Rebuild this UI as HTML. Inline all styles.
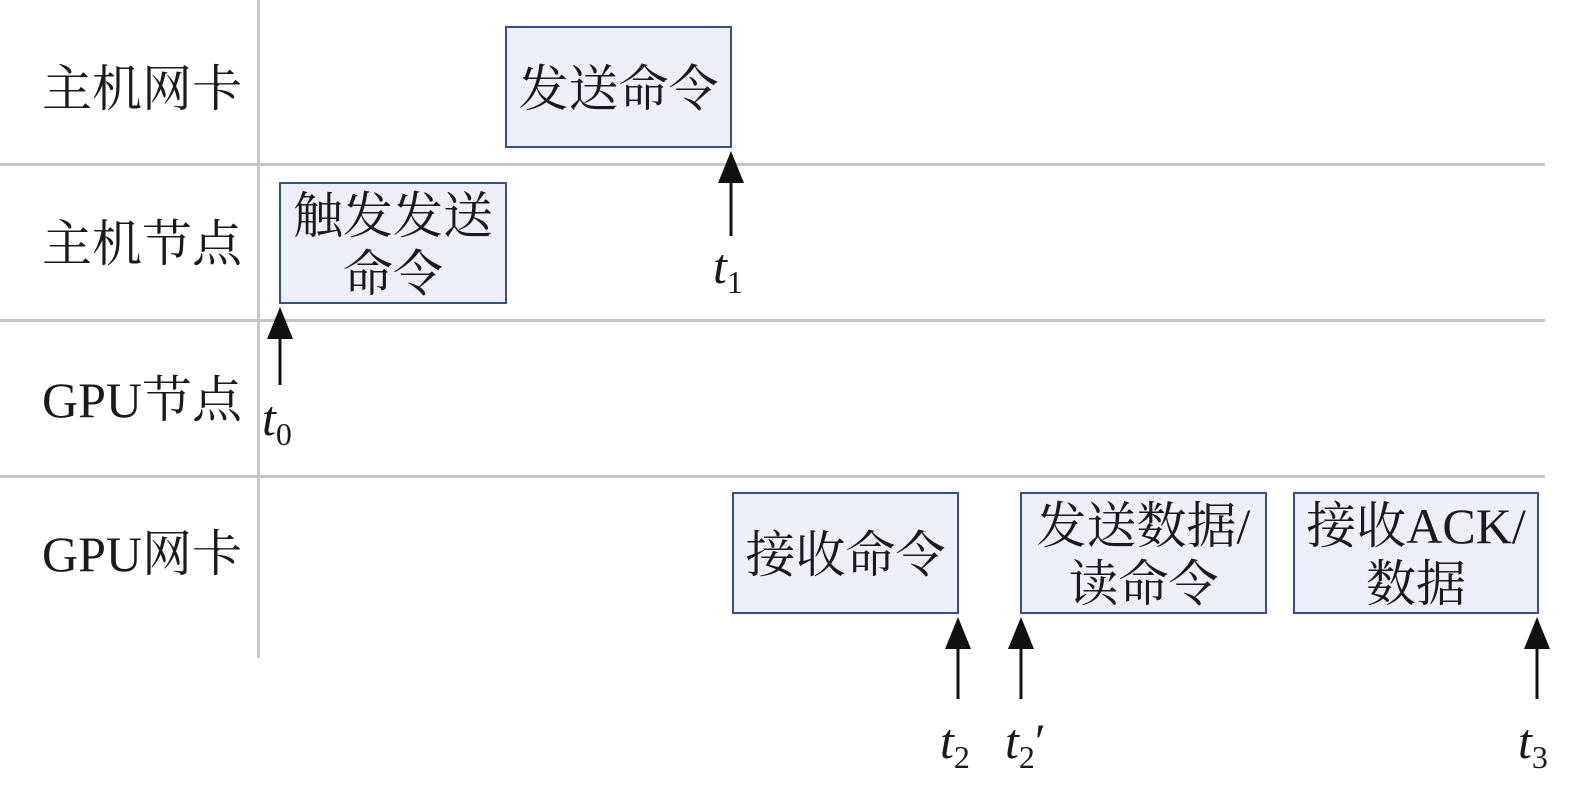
<!DOCTYPE html>
<html><head><meta charset="utf-8"><style>
body{margin:0;width:1575px;height:770px;background:#fff;overflow:hidden;position:relative;font-family:"Liberation Serif","Noto Serif CJK SC",serif;}
.l{position:absolute;font-size:50px;line-height:56px;color:#1a1a1a;white-space:nowrap;}
.b{position:absolute;box-sizing:border-box;border:2.5px solid #34518f;background:#edeff9;font-size:50px;color:#1a1a1a;display:flex;align-items:center;justify-content:center;text-align:center;line-height:58px;white-space:nowrap;padding-top:4px;}
.h{position:absolute;left:0;width:1545px;height:3px;background:#c6c6c6;}
.t{position:absolute;font-size:50px;line-height:56px;font-style:italic;color:#1a1a1a;}
.t sub{font-style:normal;font-size:32px;vertical-align:-10px;}
</style></head><body>
<div style="position:absolute;left:257px;top:0;width:3px;height:658px;background:#c6c6c6"></div>
<div class="h" style="top:163px"></div>
<div class="h" style="top:319px"></div>
<div class="h" style="top:475px"></div>
<div class="l" style="left:42px;top:61px">主机网卡</div>
<div class="l" style="left:42px;top:216px">主机节点</div>
<div class="l" style="left:42px;top:372px">GPU节点</div>
<div class="l" style="left:42px;top:526px">GPU网卡</div>
<div class="b" style="left:505px;top:26px;width:227px;height:122px">发送命令</div>
<div class="b" style="left:279px;top:182px;width:228px;height:122px">触发发送<br>命令</div>
<div class="b" style="left:732px;top:492px;width:227px;height:122px">接收命令</div>
<div class="b" style="left:1020px;top:492px;width:247px;height:122px">发送数据/<br>读命令</div>
<div class="b" style="left:1293px;top:492px;width:246px;height:122px">接收ACK/<br>数据</div>
<svg style="position:absolute;left:0;top:0" width="1575" height="770">
<g fill="#111" stroke="#111" stroke-width="3">
<line x1="731" y1="180" x2="731" y2="236"/><polygon stroke="none" points="731,151 718,183 744,183"/>
<line x1="280" y1="336" x2="280" y2="385"/><polygon stroke="none" points="280,307 267,339 293,339"/>
<line x1="958" y1="646" x2="958" y2="699"/><polygon stroke="none" points="958,617 945,649 971,649"/>
<line x1="1021" y1="646" x2="1021" y2="699"/><polygon stroke="none" points="1021,617 1008,649 1034,649"/>
<line x1="1537" y1="646" x2="1537" y2="699"/><polygon stroke="none" points="1537,617 1524,649 1550,649"/>
</g></svg>
<div class="t" style="left:713px;top:238px">t<sub>1</sub></div>
<div class="t" style="left:262px;top:390px">t<sub>0</sub></div>
<div class="t" style="left:940px;top:713px">t<sub>2</sub></div>
<div class="t" style="left:1005px;top:713px">t<sub>2</sub><span style="font-style:normal">′</span></div>
<div class="t" style="left:1518px;top:713px">t<sub>3</sub></div>
</body></html>
